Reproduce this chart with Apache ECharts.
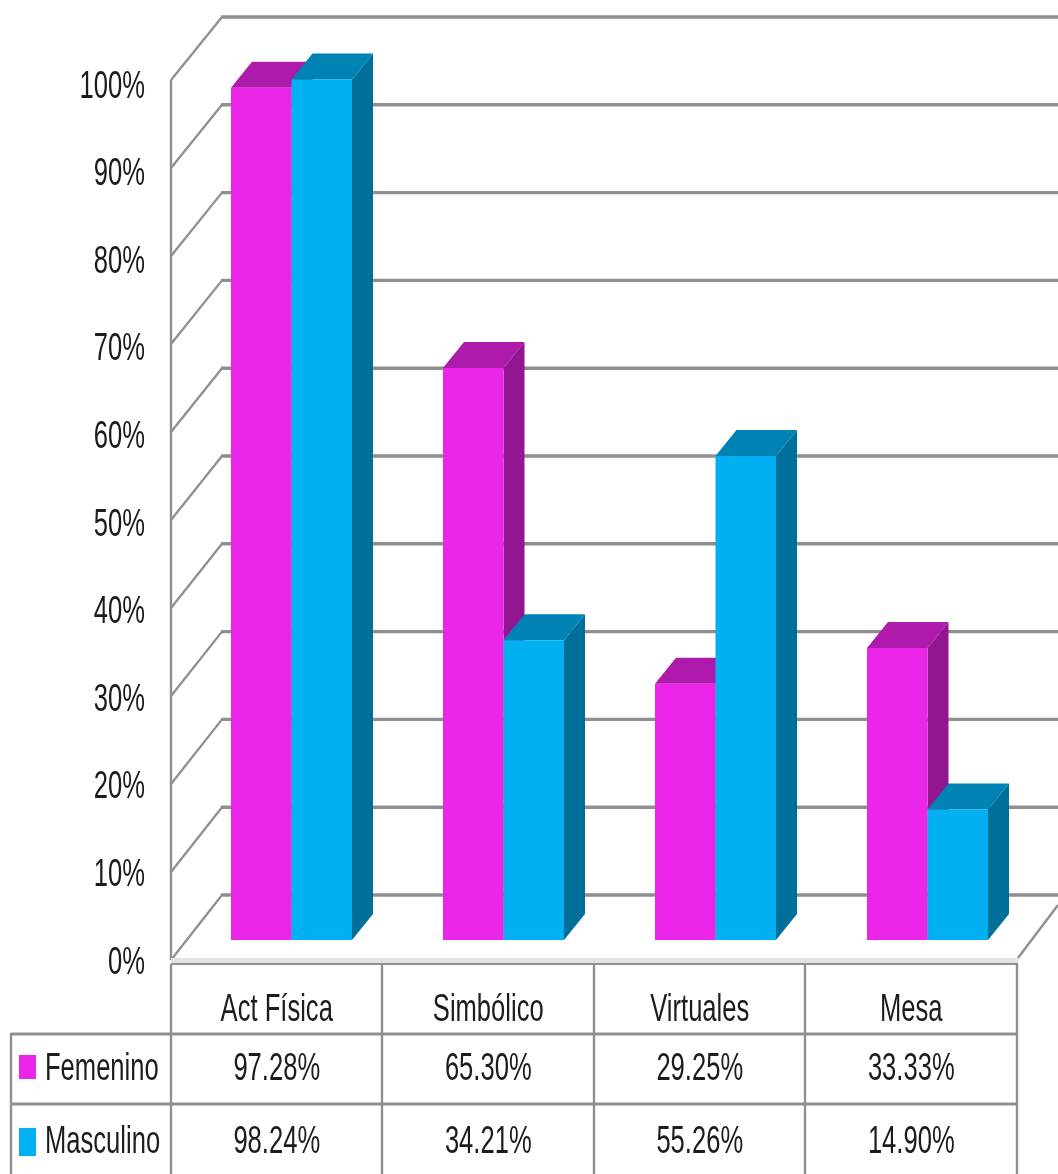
<!DOCTYPE html>
<html>
<head>
<meta charset="utf-8">
<style>html,body{margin:0;padding:0;background:#fff}#c{width:1058px;height:1174px}</style>
<script src="https://cdn.jsdelivr.net/npm/echarts@6/dist/echarts.min.js"></script>
</head>
<body>
<div id="c"></div>
<script>
var categories = ['Act Física', 'Simbólico', 'Virtuales', 'Mesa'];
var femenino = [97.28, 65.30, 29.25, 33.33];
var masculino = [98.24, 34.21, 55.26, 14.90];
var tickValues = [0, 10, 20, 30, 40, 50, 60, 70, 80, 90, 100];
var seriesNames = ['Femenino', 'Masculino'];

var FONT = '"Liberation Sans Narrow","Liberation Sans",sans-serif';
var TXT = '#1c1c1c', LINE = '#8f8f8f';
var W = 1058, DX = 51, DY = -64, DDX = 21, DDY = -26;
var FACE = [['#EB26E8', '#AD1AAC', '#921690'], ['#00B0F0', '#0083B4', '#006F9A']];
var ROW_Y = [1069, 1142], SW_Y = [1055, 1128], SW_H = [24, 28];
var TABLE_X = [171, 382, 594, 805, 1017];

function label(x, y, t, size, align) {
  return { type: 'text', x: x, y: y, scaleX: 0.825, scaleY: 1.24, silent: true,
    style: { text: t, fontFamily: FONT, fontSize: size, fill: TXT, align: align || 'center', verticalAlign: 'middle' } };
}
function seg(x1, y1, x2, y2, w, c) {
  return { type: 'line', silent: true, shape: { x1: x1, y1: y1, x2: x2, y2: y2 },
    style: { stroke: c || LINE, lineWidth: w || 2 } };
}

var option = {
  animation: false,
  backgroundColor: '#fff',
  grid: [
    { left: 171, width: 846, top: 80, height: 880, show: false },
    { left: 185.5, width: 848, top: 64, height: 876, show: false }
  ],
  xAxis: [
    { gridIndex: 0, type: 'category', data: categories, show: false },
    { gridIndex: 1, type: 'category', data: categories, show: false }
  ],
  yAxis: [
    { gridIndex: 0, type: 'value', min: 0, max: 100, interval: 10, show: false },
    { gridIndex: 1, type: 'value', min: 0, max: 100, interval: 10, show: false }
  ],
  series: [
    { // walls, gridlines and value-axis labels
      type: 'custom', xAxisIndex: 0, yAxisIndex: 0, z: 1, clip: false, silent: true,
      data: tickValues.map(function (v) { return [0, v]; }),
      renderItem: function (p, api) {
        var v = api.value(1), y = api.coord([0, v])[1], c = [];
        var by = y + DY - 1 + v * 0.02;
        if (v === 0) {
          c.push({ type: 'polygon', silent: true, shape: { points: [[171, y], [171 + DX, by], [W, by], [W, by + 10], [1018, y]] }, style: { fill: '#fff' } });
        }
        c.push({ type: 'line', silent: true, shape: { x1: 171, y1: y, x2: 171 + DX, y2: by }, style: { stroke: LINE, lineWidth: 2.3 } });
        c.push({ type: 'line', silent: true, shape: { x1: 171 + DX - 1, y1: by, x2: W, y2: by }, style: { stroke: LINE, lineWidth: 3.4 } });
        c.push(label(145, y + 3 + v * 0.04, v + '%', 31, 'right'));
        return { type: 'group', children: c };
      }
    },
    { // frame: left wall edge and floor front
      type: 'custom', xAxisIndex: 0, yAxisIndex: 0, z: 2, clip: false, silent: true,
      data: [[0, 0]],
      renderItem: function (p, api) {
        var y0 = api.coord([0, 0])[1], y1 = api.coord([0, 100])[1];
        return { type: 'group', children: [
          seg(171, y1, 171, y0, 2.4),
          { type: 'rect', silent: true, shape: { x: 171, y: y0 - 2, width: 847, height: 6 }, style: { fill: '#e3e3e3' } },
          seg(171, y0 + 4, 1018, y0 + 4, 2),
          seg(1018, y0 - 2, W, y0 - 55, 2.4)
        ] };
      }
    }
  ].concat([femenino, masculino].map(function (vals, s) {
    return { // 3D bars
      name: seriesNames[s], type: 'custom', xAxisIndex: 1, yAxisIndex: 1, z: 3 + s, clip: false,
      data: vals.map(function (v, i) { return [i, v]; }),
      renderItem: function (p, api) {
        var i = api.value(0), v = api.value(1);
        var cx = api.coord([i, 0])[0], y0 = api.coord([i, 0])[1], y = api.coord([i, v])[1];
        var bw = 60.5, x = s === 0 ? cx - bw : cx, x2 = x + bw, f = FACE[s];
        return { type: 'group', children: [
          { type: 'polygon', shape: { points: [[x2, y], [x2 + DDX, y + DDY], [x2 + DDX, y0 + DDY], [x2, y0]] }, style: { fill: f[2] } },
          { type: 'polygon', shape: { points: [[x, y], [x + DDX, y + DDY], [x2 + DDX, y + DDY], [x2, y]] }, style: { fill: f[1] } },
          { type: 'rect', shape: { x: x, y: y, width: bw, height: y0 - y }, style: { fill: f[0] } }
        ] };
      }
    };
  })).concat([
    { // table frame and category headers
      type: 'custom', xAxisIndex: 0, yAxisIndex: 0, z: 6, clip: false, silent: true,
      data: categories.map(function (c, i) { return [i]; }),
      renderItem: function (p, api) {
        var i = api.value(0), cx = api.coord([i, 0])[0], c = [label(cx, 1010, categories[i], 31)];
        if (i === 0) {
          TABLE_X.forEach(function (x) {
            c.push(seg(x, 964, x, 1174, 2.4));
          });
          c.push(seg(11, 1034, 1018, 1034, 3));
          c.push(seg(11, 1104, 1018, 1104, 3));
          c.push(seg(11, 1033, 11, 1174, 2.4));
        }
        return { type: 'group', children: c };
      }
    }
  ]).concat([femenino, masculino].map(function (vals, s) {
    return { // data-table rows
      type: 'custom', xAxisIndex: 0, yAxisIndex: 0, z: 7, clip: false, silent: true,
      data: vals.map(function (v, i) { return [i, v]; }),
      renderItem: function (p, api) {
        var i = api.value(0), v = api.value(1), cx = api.coord([i, 0])[0];
        var c = [label(cx, ROW_Y[s], v.toFixed(2) + '%', 31)];
        if (i === 0) {
          c.push({ type: 'rect', silent: true, shape: { x: 19, y: SW_Y[s], width: 17, height: SW_H[s] }, style: { fill: FACE[s][0] } });
          c.push(label(45, ROW_Y[s], seriesNames[s], 31, 'left'));
        }
        return { type: 'group', children: c };
      }
    };
  }))
};
echarts.init(document.getElementById('c'), null, { renderer: 'canvas' }).setOption(option);
</script>
</body>
</html>
